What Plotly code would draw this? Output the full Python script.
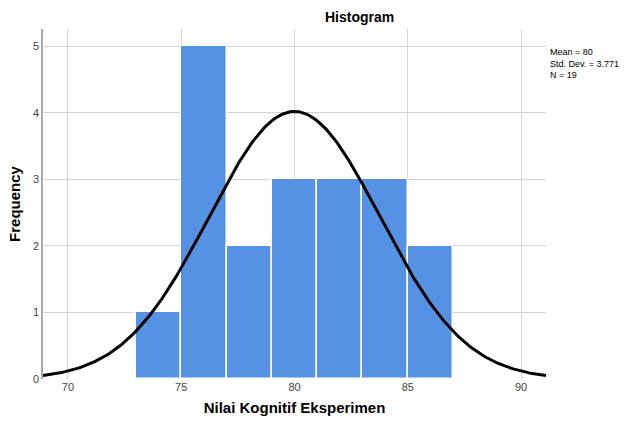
import numpy as np
import plotly.graph_objects as go

# Histogram bins (width 2) and their counts
bin_centers = [74, 76, 78, 80, 82, 84, 86]
counts = [1, 5, 2, 3, 3, 3, 2]
bin_width = 2

# Summary statistics shown in the side note
mean = 80
std_dev = 3.771
n = 19

x_ticks = [70, 75, 80, 85, 90]
y_ticks = [0, 1, 2, 3, 4, 5]

# Fitted normal curve scaled to counts per bin
x_curve = np.linspace(68.9, 91.1, 300)
y_curve = n * bin_width / (std_dev * np.sqrt(2 * np.pi)) * np.exp(-0.5 * ((x_curve - mean) / std_dev) ** 2)

fig = go.Figure()
fig.add_trace(go.Bar(
    x=bin_centers, y=counts, width=bin_width,
    marker=dict(color="#5592E4", line=dict(color="white", width=1.5)),
    hoverinfo="x+y",
))
fig.add_trace(go.Scatter(
    x=x_curve, y=y_curve, mode="lines",
    line=dict(color="black", width=3),
    hoverinfo="skip",
))

font_family = "Arial, Liberation Sans, sans-serif"

fig.update_layout(
    width=624, height=422,
    margin=dict(l=43, r=78, t=29, b=43),
    paper_bgcolor="white", plot_bgcolor="white",
    showlegend=False,
    bargap=0,
    font=dict(family=font_family, color="#333333", size=11),
    xaxis=dict(
        range=[68.9, 91.1], tickvals=x_ticks, ticks="",
        showgrid=True, gridcolor="#D4D4D4", gridwidth=1,
        showline=False, zeroline=False, automargin=False,
        tickfont=dict(size=11, color="#444444"),
        title=dict(text="<b>Nilai Kognitif Eksperimen</b>", font=dict(size=15, color="black", family=font_family), standoff=10),
    ),
    yaxis=dict(
        range=[0, 5.26], tickvals=y_ticks, ticks="",
        showgrid=True, gridcolor="#D4D4D4", gridwidth=1,
        showline=True, linecolor="#A8A8A8", linewidth=1.5,
        zeroline=False, automargin=False,
        tickfont=dict(size=11, color="#444444"),
        title=dict(text="<b>Frequency</b>", font=dict(size=15, color="black", family=font_family), standoff=9),
    ),
)

fig.add_annotation(
    text="<b>Histogram</b>", xref="paper", yref="paper",
    x=0.63, y=1.0, xanchor="center", yanchor="bottom", yshift=2,
    showarrow=False, font=dict(size=14, color="black", family=font_family),
)

fig.add_annotation(
    text="Mean = 80<br>Std. Dev. = 3.771<br>N = 19",
    xref="paper", yref="paper", x=1.0, y=0.955, xshift=2,
    xanchor="left", yanchor="top", align="left", showarrow=False,
    font=dict(size=9, color="black", family=font_family),
)

fig.write_html("out.html")
